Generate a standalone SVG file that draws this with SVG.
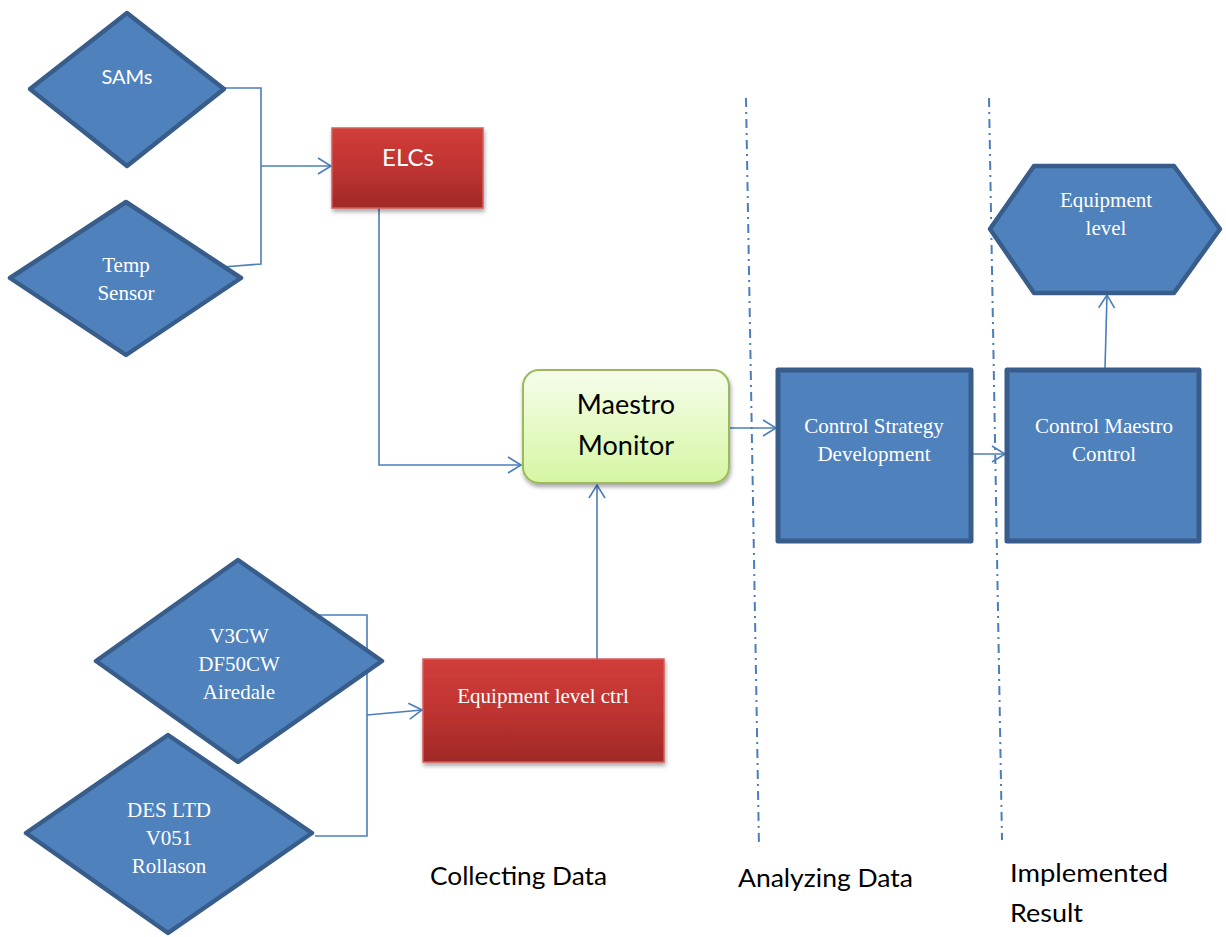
<svg xmlns="http://www.w3.org/2000/svg" width="1226" height="937" viewBox="0 0 1226 937">
<style>
.dia{fill:#4f81bd;stroke:#385d8a;stroke-width:4.5;stroke-linejoin:round}
.box{fill:#4f81bd;stroke:#385d8a;stroke-width:5;stroke-linejoin:round}
.red{fill:url(#redg);stroke:#d35e5c;stroke-width:1.5;filter:url(#sh)}
.con{fill:none;stroke:#4a7ebb;stroke-width:1.6}
.sep{fill:none;stroke:#4a7ebb;stroke-width:2;stroke-dasharray:9,5,2,5}
.serif{font-family:"Liberation Serif","Times New Roman",serif;fill:#fff;font-size:21px;text-anchor:middle}
.sans{font-family:Lato,"Liberation Sans",sans-serif;text-anchor:middle}
.lab{font-family:Lato,"Liberation Sans",sans-serif;font-size:25px;fill:#000}
</style>
<defs>
<linearGradient id="redg" x1="0" y1="0" x2="0" y2="1">
<stop offset="0" stop-color="#d13d3a"/>
<stop offset="0.5" stop-color="#bf3431"/>
<stop offset="1" stop-color="#a02927"/>
</linearGradient>
<linearGradient id="greeng" x1="0" y1="0" x2="0" y2="1">
<stop offset="0" stop-color="#f6fdec"/>
<stop offset="1" stop-color="#d5f6a2"/>
</linearGradient>
<filter id="sh" x="-10%" y="-10%" width="130%" height="140%">
<feDropShadow dx="1" dy="3" stdDeviation="2" flood-color="#000" flood-opacity="0.35"/>
</filter>
<marker id="arr" markerUnits="userSpaceOnUse" markerWidth="16" markerHeight="18" refX="14" refY="9" orient="auto">
<path d="M1,1 L14,9 L1,17" fill="none" stroke="#4a7ebb" stroke-width="1.6"/>
</marker>
</defs>

<g id="separators">
<line class="sep" x1="746" y1="98" x2="759" y2="847"/>
<line class="sep" x1="989" y1="98" x2="1002" y2="840"/>
</g>

<g id="connectors">
<path class="con" d="M224,88 H261 V264 L223,267"/>
<path class="con" d="M261,166 H331" marker-end="url(#arr)"/>
<path class="con" d="M379,208 V465 H521" marker-end="url(#arr)"/>
<path class="con" d="M316,615 H367 V836 H315"/>
<path class="con" d="M367,715 L422,710" marker-end="url(#arr)"/>
<path class="con" d="M597,659 V485" marker-end="url(#arr)"/>
<path class="con" d="M729,428 H776" marker-end="url(#arr)"/>
<path class="con" d="M971,454 H1005" marker-end="url(#arr)"/>
<path class="con" d="M1105,368 L1107,295" marker-end="url(#arr)"/>
</g>

<g id="sams">
<polygon class="dia" points="127,13 224,89 127,166 30,89"/>
<text class="sans" x="127" y="84" font-size="20" fill="#fff">SAMs</text>
</g>

<g id="temp-sensor">
<polygon class="dia" points="126,202 241,278 126,355 10,278"/>
<text class="serif" x="126" y="272">Temp</text>
<text class="serif" x="126" y="300">Sensor</text>
</g>

<g id="elcs">
<rect class="red" x="332" y="128" width="151" height="80"/>
<text class="sans" x="408" y="166" font-size="24" fill="#fff">ELCs</text>
</g>

<g id="maestro-monitor">
<rect x="523" y="370" width="206" height="113" rx="16" fill="url(#greeng)" stroke="#9bbb59" stroke-width="2" filter="url(#sh)"/>
<text class="sans" x="626" y="414" font-size="27" fill="#000">Maestro</text>
<text class="sans" x="626" y="455" font-size="27" fill="#000">Monitor</text>
</g>

<g id="v3cw">
<polygon class="dia" points="238,560 382,661 238,762 96,661"/>
<text class="serif" x="239" y="643">V3CW</text>
<text class="serif" x="239" y="671">DF50CW</text>
<text class="serif" x="239" y="699">Airedale</text>
</g>

<g id="des-ltd">
<polygon class="dia" points="168,735 312,833 168,933 26,833"/>
<text class="serif" x="169" y="817">DES LTD</text>
<text class="serif" x="169" y="845">V051</text>
<text class="serif" x="169" y="873">Rollason</text>
</g>

<g id="equipment-level-ctrl">
<rect class="red" x="423" y="659" width="241" height="103"/>
<text class="serif" x="543" y="703">Equipment level ctrl</text>
</g>

<g id="control-strategy">
<rect class="box" x="778" y="370" width="193" height="171"/>
<text class="serif" x="874" y="433">Control Strategy</text>
<text class="serif" x="874" y="461">Development</text>
</g>

<g id="control-maestro">
<rect class="box" x="1007" y="370" width="192" height="171"/>
<text class="serif" x="1104" y="433">Control Maestro</text>
<text class="serif" x="1104" y="461">Control</text>
</g>

<g id="equipment-level">
<polygon class="dia" points="990,229 1034,166 1174,166 1220,229 1174,293 1034,293"/>
<text class="serif" x="1106" y="207">Equipment</text>
<text class="serif" x="1106" y="235">level</text>
</g>

<g id="labels">
<text class="lab" x="430" y="885" textLength="177" lengthAdjust="spacingAndGlyphs">Collecting Data</text>
<text class="lab" x="738" y="887" textLength="175" lengthAdjust="spacingAndGlyphs">Analyzing Data</text>
<text class="lab" x="1010" y="882" textLength="158" lengthAdjust="spacingAndGlyphs">Implemented</text>
<text class="lab" x="1010" y="922" textLength="73" lengthAdjust="spacingAndGlyphs">Result</text>
</g>
</svg>
